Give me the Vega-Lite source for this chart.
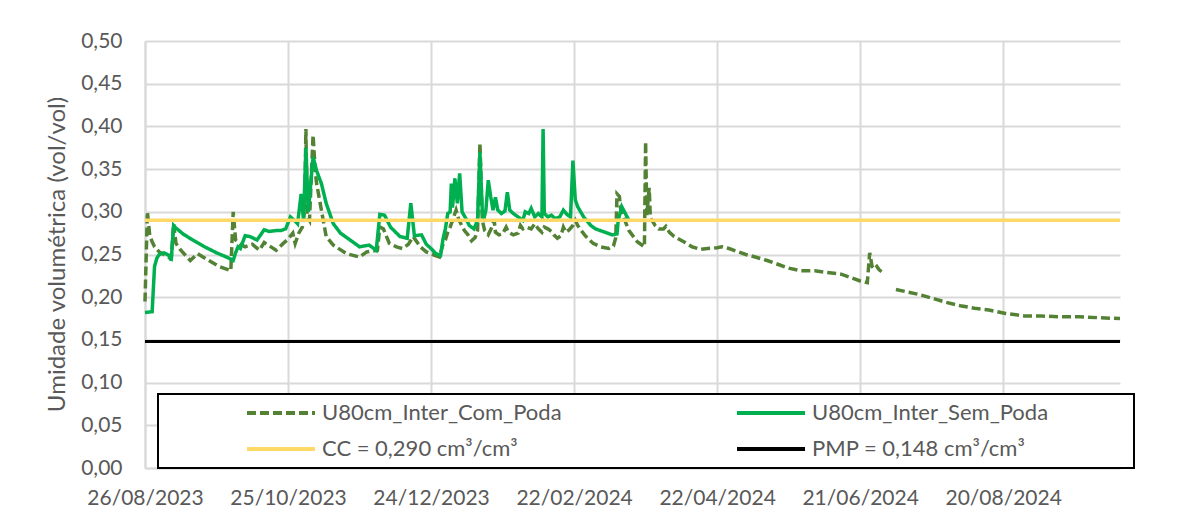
{
  "$schema": "https://vega.github.io/schema/vega-lite/v6.json",
  "width": 975,
  "height": 427,
  "autosize": {"type": "none"},
  "padding": {"left": 145, "top": 41, "right": 81, "bottom": 52},
  "background": "white",
  "config": {"view": {"stroke": null}, "font": "Lato", "legend": {"strokeWidth": 2}},
  "data": {"values": [
    {"series":"U80cm_Inter_Com_Poda","date":"2023-08-26","value":0.195},
    {"series":"U80cm_Inter_Com_Poda","date":"2023-08-27","value":0.300},
    {"series":"U80cm_Inter_Com_Poda","date":"2023-08-28","value":0.272},
    {"series":"U80cm_Inter_Com_Poda","date":"2023-08-29","value":0.265},
    {"series":"U80cm_Inter_Com_Poda","date":"2023-08-30","value":0.259},
    {"series":"U80cm_Inter_Com_Poda","date":"2023-09-01","value":0.253},
    {"series":"U80cm_Inter_Com_Poda","date":"2023-09-03","value":0.250},
    {"series":"U80cm_Inter_Com_Poda","date":"2023-09-06","value":0.245},
    {"series":"U80cm_Inter_Com_Poda","date":"2023-09-07","value":0.286},
    {"series":"U80cm_Inter_Com_Poda","date":"2023-09-08","value":0.263},
    {"series":"U80cm_Inter_Com_Poda","date":"2023-09-10","value":0.255},
    {"series":"U80cm_Inter_Com_Poda","date":"2023-09-14","value":0.243},
    {"series":"U80cm_Inter_Com_Poda","date":"2023-09-17","value":0.251},
    {"series":"U80cm_Inter_Com_Poda","date":"2023-09-20","value":0.246},
    {"series":"U80cm_Inter_Com_Poda","date":"2023-09-26","value":0.236},
    {"series":"U80cm_Inter_Com_Poda","date":"2023-10-01","value":0.231},
    {"series":"U80cm_Inter_Com_Poda","date":"2023-10-02","value":0.300},
    {"series":"U80cm_Inter_Com_Poda","date":"2023-10-03","value":0.267},
    {"series":"U80cm_Inter_Com_Poda","date":"2023-10-05","value":0.262},
    {"series":"U80cm_Inter_Com_Poda","date":"2023-10-07","value":0.259},
    {"series":"U80cm_Inter_Com_Poda","date":"2023-10-10","value":0.262},
    {"series":"U80cm_Inter_Com_Poda","date":"2023-10-13","value":0.255},
    {"series":"U80cm_Inter_Com_Poda","date":"2023-10-15","value":0.264},
    {"series":"U80cm_Inter_Com_Poda","date":"2023-10-20","value":0.255},
    {"series":"U80cm_Inter_Com_Poda","date":"2023-10-23","value":0.263},
    {"series":"U80cm_Inter_Com_Poda","date":"2023-10-25","value":0.268},
    {"series":"U80cm_Inter_Com_Poda","date":"2023-10-27","value":0.275},
    {"series":"U80cm_Inter_Com_Poda","date":"2023-10-28","value":0.263},
    {"series":"U80cm_Inter_Com_Poda","date":"2023-10-29T12:00Z","value":0.275},
    {"series":"U80cm_Inter_Com_Poda","date":"2023-10-31","value":0.282},
    {"series":"U80cm_Inter_Com_Poda","date":"2023-11-01","value":0.302},
    {"series":"U80cm_Inter_Com_Poda","date":"2023-11-01T12:00Z","value":0.397},
    {"series":"U80cm_Inter_Com_Poda","date":"2023-11-02","value":0.295},
    {"series":"U80cm_Inter_Com_Poda","date":"2023-11-03","value":0.290},
    {"series":"U80cm_Inter_Com_Poda","date":"2023-11-04T12:00Z","value":0.390},
    {"series":"U80cm_Inter_Com_Poda","date":"2023-11-05T12:00Z","value":0.345},
    {"series":"U80cm_Inter_Com_Poda","date":"2023-11-06","value":0.333},
    {"series":"U80cm_Inter_Com_Poda","date":"2023-11-08","value":0.302},
    {"series":"U80cm_Inter_Com_Poda","date":"2023-11-10","value":0.271},
    {"series":"U80cm_Inter_Com_Poda","date":"2023-11-13","value":0.261},
    {"series":"U80cm_Inter_Com_Poda","date":"2023-11-18T12:00Z","value":0.251},
    {"series":"U80cm_Inter_Com_Poda","date":"2023-11-24","value":0.247},
    {"series":"U80cm_Inter_Com_Poda","date":"2023-11-27","value":0.253},
    {"series":"U80cm_Inter_Com_Poda","date":"2023-12-01T12:00Z","value":0.255},
    {"series":"U80cm_Inter_Com_Poda","date":"2023-12-02T12:00Z","value":0.282},
    {"series":"U80cm_Inter_Com_Poda","date":"2023-12-04","value":0.280},
    {"series":"U80cm_Inter_Com_Poda","date":"2023-12-06T12:00Z","value":0.263},
    {"series":"U80cm_Inter_Com_Poda","date":"2023-12-09T12:00Z","value":0.259},
    {"series":"U80cm_Inter_Com_Poda","date":"2023-12-12","value":0.257},
    {"series":"U80cm_Inter_Com_Poda","date":"2023-12-14T12:00Z","value":0.262},
    {"series":"U80cm_Inter_Com_Poda","date":"2023-12-16T12:00Z","value":0.271},
    {"series":"U80cm_Inter_Com_Poda","date":"2023-12-19T12:00Z","value":0.259},
    {"series":"U80cm_Inter_Com_Poda","date":"2023-12-22","value":0.253},
    {"series":"U80cm_Inter_Com_Poda","date":"2023-12-25T12:00Z","value":0.249},
    {"series":"U80cm_Inter_Com_Poda","date":"2023-12-27T12:00Z","value":0.247},
    {"series":"U80cm_Inter_Com_Poda","date":"2023-12-29","value":0.262},
    {"series":"U80cm_Inter_Com_Poda","date":"2023-12-30","value":0.267},
    {"series":"U80cm_Inter_Com_Poda","date":"2023-12-31","value":0.276},
    {"series":"U80cm_Inter_Com_Poda","date":"2024-01-01","value":0.282},
    {"series":"U80cm_Inter_Com_Poda","date":"2024-01-02","value":0.290},
    {"series":"U80cm_Inter_Com_Poda","date":"2024-01-03T12:00Z","value":0.302},
    {"series":"U80cm_Inter_Com_Poda","date":"2024-01-04T12:00Z","value":0.292},
    {"series":"U80cm_Inter_Com_Poda","date":"2024-01-05T12:00Z","value":0.286},
    {"series":"U80cm_Inter_Com_Poda","date":"2024-01-07","value":0.278},
    {"series":"U80cm_Inter_Com_Poda","date":"2024-01-08T12:00Z","value":0.273},
    {"series":"U80cm_Inter_Com_Poda","date":"2024-01-10","value":0.266},
    {"series":"U80cm_Inter_Com_Poda","date":"2024-01-11T12:00Z","value":0.270},
    {"series":"U80cm_Inter_Com_Poda","date":"2024-01-12T12:00Z","value":0.278},
    {"series":"U80cm_Inter_Com_Poda","date":"2024-01-13T12:00Z","value":0.381},
    {"series":"U80cm_Inter_Com_Poda","date":"2024-01-14T12:00Z","value":0.290},
    {"series":"U80cm_Inter_Com_Poda","date":"2024-01-15T12:00Z","value":0.278},
    {"series":"U80cm_Inter_Com_Poda","date":"2024-01-17","value":0.273},
    {"series":"U80cm_Inter_Com_Poda","date":"2024-01-18T12:00Z","value":0.282},
    {"series":"U80cm_Inter_Com_Poda","date":"2024-01-19T12:00Z","value":0.290},
    {"series":"U80cm_Inter_Com_Poda","date":"2024-01-20","value":0.276},
    {"series":"U80cm_Inter_Com_Poda","date":"2024-01-21T12:00Z","value":0.273},
    {"series":"U80cm_Inter_Com_Poda","date":"2024-01-23","value":0.274},
    {"series":"U80cm_Inter_Com_Poda","date":"2024-01-24T12:00Z","value":0.282},
    {"series":"U80cm_Inter_Com_Poda","date":"2024-01-25T12:00Z","value":0.276},
    {"series":"U80cm_Inter_Com_Poda","date":"2024-01-27T12:00Z","value":0.273},
    {"series":"U80cm_Inter_Com_Poda","date":"2024-01-29T12:00Z","value":0.275},
    {"series":"U80cm_Inter_Com_Poda","date":"2024-01-30T12:00Z","value":0.284},
    {"series":"U80cm_Inter_Com_Poda","date":"2024-01-31T12:00Z","value":0.280},
    {"series":"U80cm_Inter_Com_Poda","date":"2024-02-02","value":0.282},
    {"series":"U80cm_Inter_Com_Poda","date":"2024-02-04","value":0.280},
    {"series":"U80cm_Inter_Com_Poda","date":"2024-02-05T12:00Z","value":0.286},
    {"series":"U80cm_Inter_Com_Poda","date":"2024-02-07","value":0.280},
    {"series":"U80cm_Inter_Com_Poda","date":"2024-02-08T12:00Z","value":0.276},
    {"series":"U80cm_Inter_Com_Poda","date":"2024-02-09T12:00Z","value":0.282},
    {"series":"U80cm_Inter_Com_Poda","date":"2024-02-11","value":0.280},
    {"series":"U80cm_Inter_Com_Poda","date":"2024-02-12T12:00Z","value":0.277},
    {"series":"U80cm_Inter_Com_Poda","date":"2024-02-13T12:00Z","value":0.273},
    {"series":"U80cm_Inter_Com_Poda","date":"2024-02-15","value":0.269},
    {"series":"U80cm_Inter_Com_Poda","date":"2024-02-16T12:00Z","value":0.272},
    {"series":"U80cm_Inter_Com_Poda","date":"2024-02-17T12:00Z","value":0.282},
    {"series":"U80cm_Inter_Com_Poda","date":"2024-02-18T12:00Z","value":0.276},
    {"series":"U80cm_Inter_Com_Poda","date":"2024-02-20","value":0.279},
    {"series":"U80cm_Inter_Com_Poda","date":"2024-02-21T12:00Z","value":0.284},
    {"series":"U80cm_Inter_Com_Poda","date":"2024-02-22T12:00Z","value":0.290},
    {"series":"U80cm_Inter_Com_Poda","date":"2024-02-23T12:00Z","value":0.284},
    {"series":"U80cm_Inter_Com_Poda","date":"2024-02-25","value":0.278},
    {"series":"U80cm_Inter_Com_Poda","date":"2024-02-27","value":0.271},
    {"series":"U80cm_Inter_Com_Poda","date":"2024-03-01","value":0.263},
    {"series":"U80cm_Inter_Com_Poda","date":"2024-03-04","value":0.259},
    {"series":"U80cm_Inter_Com_Poda","date":"2024-03-07T12:00Z","value":0.257},
    {"series":"U80cm_Inter_Com_Poda","date":"2024-03-09T12:00Z","value":0.260},
    {"series":"U80cm_Inter_Com_Poda","date":"2024-03-10T12:00Z","value":0.270},
    {"series":"U80cm_Inter_Com_Poda","date":"2024-03-11","value":0.321},
    {"series":"U80cm_Inter_Com_Poda","date":"2024-03-12","value":0.318},
    {"series":"U80cm_Inter_Com_Poda","date":"2024-03-12T12:00Z","value":0.304},
    {"series":"U80cm_Inter_Com_Poda","date":"2024-03-14","value":0.292},
    {"series":"U80cm_Inter_Com_Poda","date":"2024-03-16","value":0.278},
    {"series":"U80cm_Inter_Com_Poda","date":"2024-03-19T12:00Z","value":0.265},
    {"series":"U80cm_Inter_Com_Poda","date":"2024-03-22T12:00Z","value":0.259},
    {"series":"U80cm_Inter_Com_Poda","date":"2024-03-23","value":0.382},
    {"series":"U80cm_Inter_Com_Poda","date":"2024-03-23T12:00Z","value":0.296},
    {"series":"U80cm_Inter_Com_Poda","date":"2024-03-24T12:00Z","value":0.328},
    {"series":"U80cm_Inter_Com_Poda","date":"2024-03-25","value":0.293},
    {"series":"U80cm_Inter_Com_Poda","date":"2024-03-27","value":0.284},
    {"series":"U80cm_Inter_Com_Poda","date":"2024-03-28T12:00Z","value":0.280},
    {"series":"U80cm_Inter_Com_Poda","date":"2024-03-30T12:00Z","value":0.280},
    {"series":"U80cm_Inter_Com_Poda","date":"2024-03-31T12:00Z","value":0.283},
    {"series":"U80cm_Inter_Com_Poda","date":"2024-04-02","value":0.276},
    {"series":"U80cm_Inter_Com_Poda","date":"2024-04-04","value":0.271},
    {"series":"U80cm_Inter_Com_Poda","date":"2024-04-08","value":0.265},
    {"series":"U80cm_Inter_Com_Poda","date":"2024-04-11T12:00Z","value":0.259},
    {"series":"U80cm_Inter_Com_Poda","date":"2024-04-15","value":0.256},
    {"series":"U80cm_Inter_Com_Poda","date":"2024-04-18","value":0.257},
    {"series":"U80cm_Inter_Com_Poda","date":"2024-04-22","value":0.258},
    {"series":"U80cm_Inter_Com_Poda","date":"2024-04-24","value":0.259},
    {"series":"U80cm_Inter_Com_Poda","date":"2024-04-27","value":0.257},
    {"series":"U80cm_Inter_Com_Poda","date":"2024-04-30","value":0.254},
    {"series":"U80cm_Inter_Com_Poda","date":"2024-05-04","value":0.250},
    {"series":"U80cm_Inter_Com_Poda","date":"2024-05-08","value":0.247},
    {"series":"U80cm_Inter_Com_Poda","date":"2024-05-13","value":0.243},
    {"series":"U80cm_Inter_Com_Poda","date":"2024-05-18","value":0.238},
    {"series":"U80cm_Inter_Com_Poda","date":"2024-05-22","value":0.234},
    {"series":"U80cm_Inter_Com_Poda","date":"2024-05-27","value":0.231},
    {"series":"U80cm_Inter_Com_Poda","date":"2024-06-02","value":0.231},
    {"series":"U80cm_Inter_Com_Poda","date":"2024-06-07","value":0.229},
    {"series":"U80cm_Inter_Com_Poda","date":"2024-06-13","value":0.227},
    {"series":"U80cm_Inter_Com_Poda","date":"2024-06-17","value":0.223},
    {"series":"U80cm_Inter_Com_Poda","date":"2024-06-21","value":0.219},
    {"series":"U80cm_Inter_Com_Poda","date":"2024-06-24","value":0.217},
    {"series":"U80cm_Inter_Com_Poda","date":"2024-06-25","value":0.252},
    {"series":"U80cm_Inter_Com_Poda","date":"2024-06-26","value":0.236},
    {"series":"U80cm_Inter_Com_Poda","date":"2024-06-27","value":0.233},
    {"series":"U80cm_Inter_Com_Poda","date":"2024-06-28","value":0.236},
    {"series":"U80cm_Inter_Com_Poda","date":"2024-06-29","value":0.232},
    {"series":"U80cm_Inter_Com_Poda","date":"2024-06-30","value":0.230},
    {"series":"U80cm_Inter_Com_Poda","part":"b","date":"2024-07-06","value":0.209},
    {"series":"U80cm_Inter_Com_Poda","part":"b","date":"2024-07-11","value":0.206},
    {"series":"U80cm_Inter_Com_Poda","part":"b","date":"2024-07-16","value":0.203},
    {"series":"U80cm_Inter_Com_Poda","part":"b","date":"2024-07-21","value":0.199},
    {"series":"U80cm_Inter_Com_Poda","part":"b","date":"2024-07-27","value":0.194},
    {"series":"U80cm_Inter_Com_Poda","part":"b","date":"2024-08-02","value":0.190},
    {"series":"U80cm_Inter_Com_Poda","part":"b","date":"2024-08-08","value":0.187},
    {"series":"U80cm_Inter_Com_Poda","part":"b","date":"2024-08-14","value":0.185},
    {"series":"U80cm_Inter_Com_Poda","part":"b","date":"2024-08-21","value":0.181},
    {"series":"U80cm_Inter_Com_Poda","part":"b","date":"2024-08-29","value":0.178},
    {"series":"U80cm_Inter_Com_Poda","part":"b","date":"2024-09-05","value":0.178},
    {"series":"U80cm_Inter_Com_Poda","part":"b","date":"2024-09-13","value":0.177},
    {"series":"U80cm_Inter_Com_Poda","part":"b","date":"2024-09-21","value":0.177},
    {"series":"U80cm_Inter_Com_Poda","part":"b","date":"2024-09-29","value":0.176},
    {"series":"U80cm_Inter_Com_Poda","part":"b","date":"2024-10-08","value":0.175},
    {"series":"U80cm_Inter_Sem_Poda","date":"2023-08-26","value":0.182},
    {"series":"U80cm_Inter_Sem_Poda","date":"2023-08-29","value":0.183},
    {"series":"U80cm_Inter_Sem_Poda","date":"2023-08-30","value":0.236},
    {"series":"U80cm_Inter_Sem_Poda","date":"2023-08-31","value":0.246},
    {"series":"U80cm_Inter_Sem_Poda","date":"2023-09-01","value":0.250},
    {"series":"U80cm_Inter_Sem_Poda","date":"2023-09-03","value":0.252},
    {"series":"U80cm_Inter_Sem_Poda","date":"2023-09-05","value":0.249},
    {"series":"U80cm_Inter_Sem_Poda","date":"2023-09-06","value":0.243},
    {"series":"U80cm_Inter_Sem_Poda","date":"2023-09-07","value":0.284},
    {"series":"U80cm_Inter_Sem_Poda","date":"2023-09-08","value":0.281},
    {"series":"U80cm_Inter_Sem_Poda","date":"2023-09-11","value":0.274},
    {"series":"U80cm_Inter_Sem_Poda","date":"2023-09-15","value":0.267},
    {"series":"U80cm_Inter_Sem_Poda","date":"2023-09-20","value":0.259},
    {"series":"U80cm_Inter_Sem_Poda","date":"2023-09-25","value":0.252},
    {"series":"U80cm_Inter_Sem_Poda","date":"2023-09-30","value":0.246},
    {"series":"U80cm_Inter_Sem_Poda","date":"2023-10-02","value":0.243},
    {"series":"U80cm_Inter_Sem_Poda","date":"2023-10-03","value":0.252},
    {"series":"U80cm_Inter_Sem_Poda","date":"2023-10-04","value":0.259},
    {"series":"U80cm_Inter_Sem_Poda","date":"2023-10-05","value":0.257},
    {"series":"U80cm_Inter_Sem_Poda","date":"2023-10-07","value":0.272},
    {"series":"U80cm_Inter_Sem_Poda","date":"2023-10-09","value":0.271},
    {"series":"U80cm_Inter_Sem_Poda","date":"2023-10-12","value":0.267},
    {"series":"U80cm_Inter_Sem_Poda","date":"2023-10-15","value":0.279},
    {"series":"U80cm_Inter_Sem_Poda","date":"2023-10-17","value":0.277},
    {"series":"U80cm_Inter_Sem_Poda","date":"2023-10-20","value":0.278},
    {"series":"U80cm_Inter_Sem_Poda","date":"2023-10-22","value":0.278},
    {"series":"U80cm_Inter_Sem_Poda","date":"2023-10-24","value":0.280},
    {"series":"U80cm_Inter_Sem_Poda","date":"2023-10-26","value":0.294},
    {"series":"U80cm_Inter_Sem_Poda","date":"2023-10-28","value":0.289},
    {"series":"U80cm_Inter_Sem_Poda","date":"2023-10-29","value":0.286},
    {"series":"U80cm_Inter_Sem_Poda","date":"2023-10-30T12:00Z","value":0.321},
    {"series":"U80cm_Inter_Sem_Poda","date":"2023-10-31T12:00Z","value":0.290},
    {"series":"U80cm_Inter_Sem_Poda","date":"2023-11-01T12:00Z","value":0.375},
    {"series":"U80cm_Inter_Sem_Poda","date":"2023-11-02T12:00Z","value":0.300},
    {"series":"U80cm_Inter_Sem_Poda","date":"2023-11-04T12:00Z","value":0.364},
    {"series":"U80cm_Inter_Sem_Poda","date":"2023-11-06","value":0.348},
    {"series":"U80cm_Inter_Sem_Poda","date":"2023-11-08","value":0.333},
    {"series":"U80cm_Inter_Sem_Poda","date":"2023-11-10","value":0.310},
    {"series":"U80cm_Inter_Sem_Poda","date":"2023-11-13","value":0.286},
    {"series":"U80cm_Inter_Sem_Poda","date":"2023-11-16","value":0.275},
    {"series":"U80cm_Inter_Sem_Poda","date":"2023-11-20","value":0.267},
    {"series":"U80cm_Inter_Sem_Poda","date":"2023-11-24","value":0.259},
    {"series":"U80cm_Inter_Sem_Poda","date":"2023-11-28","value":0.261},
    {"series":"U80cm_Inter_Sem_Poda","date":"2023-12-01","value":0.255},
    {"series":"U80cm_Inter_Sem_Poda","date":"2023-12-02T12:00Z","value":0.297},
    {"series":"U80cm_Inter_Sem_Poda","date":"2023-12-04T12:00Z","value":0.296},
    {"series":"U80cm_Inter_Sem_Poda","date":"2023-12-07","value":0.282},
    {"series":"U80cm_Inter_Sem_Poda","date":"2023-12-11","value":0.271},
    {"series":"U80cm_Inter_Sem_Poda","date":"2023-12-14","value":0.269},
    {"series":"U80cm_Inter_Sem_Poda","date":"2023-12-15T12:00Z","value":0.310},
    {"series":"U80cm_Inter_Sem_Poda","date":"2023-12-17","value":0.272},
    {"series":"U80cm_Inter_Sem_Poda","date":"2023-12-20","value":0.273},
    {"series":"U80cm_Inter_Sem_Poda","date":"2023-12-22","value":0.262},
    {"series":"U80cm_Inter_Sem_Poda","date":"2023-12-24","value":0.257},
    {"series":"U80cm_Inter_Sem_Poda","date":"2023-12-26","value":0.251},
    {"series":"U80cm_Inter_Sem_Poda","date":"2023-12-28","value":0.249},
    {"series":"U80cm_Inter_Sem_Poda","date":"2023-12-29","value":0.268},
    {"series":"U80cm_Inter_Sem_Poda","date":"2023-12-30","value":0.280},
    {"series":"U80cm_Inter_Sem_Poda","date":"2023-12-31","value":0.298},
    {"series":"U80cm_Inter_Sem_Poda","date":"2024-01-01","value":0.300},
    {"series":"U80cm_Inter_Sem_Poda","date":"2024-01-01T12:00Z","value":0.333},
    {"series":"U80cm_Inter_Sem_Poda","date":"2024-01-02","value":0.305},
    {"series":"U80cm_Inter_Sem_Poda","date":"2024-01-03","value":0.339},
    {"series":"U80cm_Inter_Sem_Poda","date":"2024-01-04","value":0.310},
    {"series":"U80cm_Inter_Sem_Poda","date":"2024-01-05","value":0.345},
    {"series":"U80cm_Inter_Sem_Poda","date":"2024-01-06","value":0.300},
    {"series":"U80cm_Inter_Sem_Poda","date":"2024-01-08","value":0.290},
    {"series":"U80cm_Inter_Sem_Poda","date":"2024-01-09","value":0.284},
    {"series":"U80cm_Inter_Sem_Poda","date":"2024-01-11","value":0.280},
    {"series":"U80cm_Inter_Sem_Poda","date":"2024-01-12T12:00Z","value":0.290},
    {"series":"U80cm_Inter_Sem_Poda","date":"2024-01-13T12:00Z","value":0.370},
    {"series":"U80cm_Inter_Sem_Poda","date":"2024-01-14T12:00Z","value":0.300},
    {"series":"U80cm_Inter_Sem_Poda","date":"2024-01-15","value":0.290},
    {"series":"U80cm_Inter_Sem_Poda","date":"2024-01-16","value":0.302},
    {"series":"U80cm_Inter_Sem_Poda","date":"2024-01-17","value":0.337},
    {"series":"U80cm_Inter_Sem_Poda","date":"2024-01-18","value":0.318},
    {"series":"U80cm_Inter_Sem_Poda","date":"2024-01-19","value":0.302},
    {"series":"U80cm_Inter_Sem_Poda","date":"2024-01-20","value":0.317},
    {"series":"U80cm_Inter_Sem_Poda","date":"2024-01-21","value":0.302},
    {"series":"U80cm_Inter_Sem_Poda","date":"2024-01-22T12:00Z","value":0.298},
    {"series":"U80cm_Inter_Sem_Poda","date":"2024-01-24","value":0.301},
    {"series":"U80cm_Inter_Sem_Poda","date":"2024-01-25","value":0.323},
    {"series":"U80cm_Inter_Sem_Poda","date":"2024-01-26","value":0.302},
    {"series":"U80cm_Inter_Sem_Poda","date":"2024-01-27T12:00Z","value":0.298},
    {"series":"U80cm_Inter_Sem_Poda","date":"2024-01-29T12:00Z","value":0.294},
    {"series":"U80cm_Inter_Sem_Poda","date":"2024-01-31T12:00Z","value":0.290},
    {"series":"U80cm_Inter_Sem_Poda","date":"2024-02-01T12:00Z","value":0.300},
    {"series":"U80cm_Inter_Sem_Poda","date":"2024-02-03","value":0.298},
    {"series":"U80cm_Inter_Sem_Poda","date":"2024-02-04","value":0.304},
    {"series":"U80cm_Inter_Sem_Poda","date":"2024-02-05T12:00Z","value":0.294},
    {"series":"U80cm_Inter_Sem_Poda","date":"2024-02-07","value":0.298},
    {"series":"U80cm_Inter_Sem_Poda","date":"2024-02-08T12:00Z","value":0.294},
    {"series":"U80cm_Inter_Sem_Poda","date":"2024-02-09","value":0.397},
    {"series":"U80cm_Inter_Sem_Poda","date":"2024-02-09T12:00Z","value":0.298},
    {"series":"U80cm_Inter_Sem_Poda","date":"2024-02-11","value":0.294},
    {"series":"U80cm_Inter_Sem_Poda","date":"2024-02-12T12:00Z","value":0.296},
    {"series":"U80cm_Inter_Sem_Poda","date":"2024-02-14","value":0.292},
    {"series":"U80cm_Inter_Sem_Poda","date":"2024-02-16","value":0.294},
    {"series":"U80cm_Inter_Sem_Poda","date":"2024-02-17T12:00Z","value":0.302},
    {"series":"U80cm_Inter_Sem_Poda","date":"2024-02-19","value":0.297},
    {"series":"U80cm_Inter_Sem_Poda","date":"2024-02-20T12:00Z","value":0.294},
    {"series":"U80cm_Inter_Sem_Poda","date":"2024-02-21T12:00Z","value":0.360},
    {"series":"U80cm_Inter_Sem_Poda","date":"2024-02-22T12:00Z","value":0.314},
    {"series":"U80cm_Inter_Sem_Poda","date":"2024-02-23T12:00Z","value":0.306},
    {"series":"U80cm_Inter_Sem_Poda","date":"2024-02-26","value":0.294},
    {"series":"U80cm_Inter_Sem_Poda","date":"2024-02-29","value":0.284},
    {"series":"U80cm_Inter_Sem_Poda","date":"2024-03-02","value":0.280},
    {"series":"U80cm_Inter_Sem_Poda","date":"2024-03-05","value":0.277},
    {"series":"U80cm_Inter_Sem_Poda","date":"2024-03-09","value":0.273},
    {"series":"U80cm_Inter_Sem_Poda","date":"2024-03-11","value":0.274},
    {"series":"U80cm_Inter_Sem_Poda","date":"2024-03-11T12:00Z","value":0.290},
    {"series":"U80cm_Inter_Sem_Poda","date":"2024-03-13","value":0.306},
    {"series":"U80cm_Inter_Sem_Poda","date":"2024-03-14T12:00Z","value":0.298},
    {"series":"U80cm_Inter_Sem_Poda","date":"2024-03-16","value":0.290},
    {"series":"CC = 0,290 cm³/cm³","date":"2023-08-26","value":0.290},
    {"series":"CC = 0,290 cm³/cm³","date":"2024-10-08","value":0.290},
    {"series":"PMP = 0,148 cm³/cm³","date":"2023-08-26","value":0.148},
    {"series":"PMP = 0,148 cm³/cm³","date":"2024-10-08","value":0.148}
  ]},
  "encoding": {
    "x": {
      "field": "date", "type": "temporal",
      "scale": {"type": "utc", "nice": false, "domain": [{"year": 2023, "month": 8, "date": 26, "utc": true}, {"year": 2024, "month": 10, "date": 8, "utc": true}]},
      "axis": {
        "title": null,
        "values": [
          {"year": 2023, "month": 8, "date": 26, "utc": true},
          {"year": 2023, "month": 10, "date": 25, "utc": true},
          {"year": 2023, "month": 12, "date": 24, "utc": true},
          {"year": 2024, "month": 2, "date": 22, "utc": true},
          {"year": 2024, "month": 4, "date": 22, "utc": true},
          {"year": 2024, "month": 6, "date": 21, "utc": true},
          {"year": 2024, "month": 8, "date": 20, "utc": true}
        ],
        "labelExpr": "utcFormat(datum.value, '%d/%m/%Y')",
        "labelFont": "Lato", "labelFontSize": 21, "labelColor": "#595959",
        "labelPadding": 19, "labelFlush": false, "labelOverlap": false, "labelBound": false,
        "ticks": false, "domain": true, "domainColor": "#d9d9d9", "domainWidth": 2,
        "grid": true, "gridColor": "#d9d9d9", "gridWidth": 2
      }
    },
    "y": {
      "field": "value", "type": "quantitative",
      "scale": {"domain": [0, 0.5], "nice": false},
      "axis": {
        "title": "Umidade volumétrica (vol/vol)",
        "titleFont": "Lato", "titleFontSize": 24, "titleFontWeight": "normal", "titleColor": "#595959",
        "titleX": -88, "titleY": 213, "titleAngle": -90, "titleBaseline": "middle", "titleAlign": "center",
        "values": [0, 0.05, 0.1, 0.15, 0.2, 0.25, 0.3, 0.35, 0.4, 0.45, 0.5],
        "labelExpr": "replace(format(datum.value, '.2f'), '.', ',')",
        "labelFont": "Lato", "labelFontSize": 21, "labelColor": "#595959", "labelPadding": 23,
        "ticks": false, "domain": true, "domainColor": "#d9d9d9", "domainWidth": 2,
        "grid": true, "gridColor": "#d9d9d9", "gridWidth": 2
      }
    },
    "color": {
      "field": "series", "type": "nominal",
      "scale": {"domain": ["U80cm_Inter_Com_Poda", "U80cm_Inter_Sem_Poda", "CC = 0,290 cm³/cm³", "PMP = 0,148 cm³/cm³"], "range": ["#548235", "#00B050", "#FFD966", "#000000"]},
      "legend": {
        "title": " ", "titleOrient": "right", "titlePadding": 85, "titleFontSize": 10,
        "orient": "none", "legendX": 13, "legendY": 353, "columns": 2, "direction": "horizontal",
        "symbolType": "stroke", "symbolSize": 4624, "symbolStrokeWidth": 4, "symbolOffset": 86,
        "labelOffset": 5, "labelFont": "Lato", "labelFontSize": 22, "labelColor": "#595959", "labelLimit": 400,
        "clipHeight": 36, "rowPadding": 0, "columnPadding": 87,
        "padding": 1, "strokeColor": "#000000", "fillColor": "#ffffff"
      }
    },
    "strokeDash": {
      "field": "series", "type": "nominal",
      "scale": {"domain": ["U80cm_Inter_Com_Poda", "U80cm_Inter_Sem_Poda", "CC = 0,290 cm³/cm³", "PMP = 0,148 cm³/cm³"], "range": [[9, 4], [1, 0], [1, 0], [1, 0]]},
      "legend": {
        "title": " ", "titleOrient": "right", "titlePadding": 85, "titleFontSize": 10,
        "orient": "none", "legendX": 13, "legendY": 353, "columns": 2, "direction": "horizontal",
        "symbolType": "stroke", "symbolSize": 4624, "symbolStrokeWidth": 4, "symbolOffset": 86,
        "labelOffset": 5, "labelFont": "Lato", "labelFontSize": 22, "labelColor": "#595959", "labelLimit": 400,
        "clipHeight": 36, "rowPadding": 0, "columnPadding": 87,
        "padding": 1, "strokeColor": "#000000", "fillColor": "#ffffff"
      }
    }
  },
  "layer": [
    {"transform": [{"filter": {"field": "series", "equal": "U80cm_Inter_Com_Poda"}}], "mark": {"type": "line", "strokeWidth": 3.5}, "encoding": {"detail": {"field": "part"}}},
    {"transform": [{"filter": {"field": "series", "equal": "U80cm_Inter_Sem_Poda"}}], "mark": {"type": "line", "strokeWidth": 3.5}},
    {"transform": [{"filter": {"field": "series", "equal": "CC = 0,290 cm³/cm³"}}], "mark": {"type": "line", "strokeWidth": 3.5}},
    {"transform": [{"filter": {"field": "series", "equal": "PMP = 0,148 cm³/cm³"}}], "mark": {"type": "line", "strokeWidth": 3}}
  ]
}
